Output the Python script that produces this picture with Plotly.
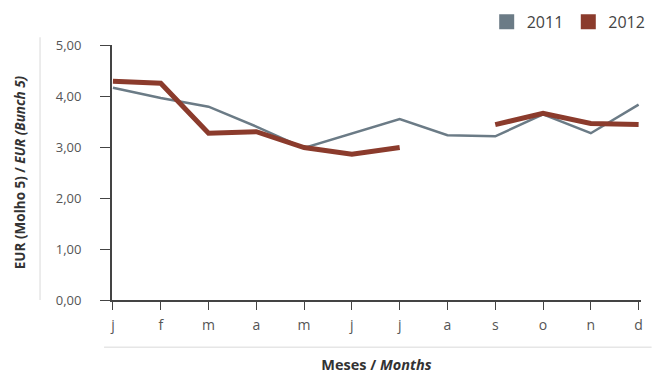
import plotly.graph_objects as go

months = ["j", "f", "m", "a", "m", "j", "j", "a", "s", "o", "n", "d"]
v2011 = [4.16, 3.96, 3.79, 3.40, 2.98, 3.27, 3.55, 3.23, 3.21, 3.64, 3.27, 3.83]
v2012 = [4.29, 4.25, 3.27, 3.30, 2.99, 2.86, 2.99, None, 3.44, 3.66, 3.46, 3.44]
y_ticks = [0, 1, 2, 3, 4, 5]

c2011 = "#6b7b86"
c2012 = "#8b3b2c"
xs = list(range(len(months)))

fig = go.Figure()
fig.add_trace(go.Scatter(x=xs, y=v2011, mode="lines", line=dict(color=c2011, width=2.5),
                         showlegend=False, connectgaps=False))
fig.add_trace(go.Scatter(x=xs, y=v2012, mode="lines", line=dict(color=c2012, width=5),
                         showlegend=False, connectgaps=False))
for name, c in [("2011", c2011), ("2012", c2012)]:
    fig.add_trace(go.Scatter(x=[None], y=[None], mode="markers", name=name,
                             marker=dict(symbol="square", size=15, color=c)))

font = "Open Sans, Lato, sans-serif"
fig.update_layout(
    width=652, height=374,
    margin=dict(l=112, r=11, t=45, b=74, autoexpand=False),
    paper_bgcolor="white", plot_bgcolor="white",
    separators=", ",
    font=dict(family=font, color="#444", size=13),
    legend=dict(orientation="h", x=0.998, xref="container", xanchor="right",
                y=0.987, yanchor="top", yref="container",
                font=dict(size=16, color="#444"),
                itemwidth=30, bgcolor="rgba(0,0,0,0)"),
    xaxis=dict(range=[-0.02, 11.05], tickvals=xs, ticktext=months,
               showgrid=False, zeroline=False, automargin=False,
               showline=True, linecolor="#444", linewidth=2,
               ticks="outside", ticklen=8, tickcolor="#444", tickwidth=1,
               ticklabelstandoff=3,
               tickfont=dict(size=14, color="#555"),
               title=dict(text="<b>Meses / <i>Months</i></b>", font=dict(size=14.5, color="#333"),
                          standoff=28)),
    yaxis=dict(range=[0, 5], tickvals=y_ticks, tickformat=".2f",
               showgrid=False, zeroline=False, automargin=False,
               showline=True, linecolor="#444", linewidth=2,
               ticks="outside", ticklen=10, tickcolor="#444", tickwidth=1,
               ticklabelstandoff=16,
               tickfont=dict(size=13, color="#555"),
               title=dict(text="<b>EUR (Molho 5) / <i>EUR (Bunch 5)</i></b>",
                          font=dict(size=13.5, color="#333"), standoff=27)),
)

fig.add_shape(type="line", xref="paper", yref="paper", x0=-0.136, x1=-0.136, y0=0, y1=1.03,
              line=dict(color="#e6e6e6", width=1.5))
fig.add_shape(type="line", xref="paper", yref="paper", x0=-0.015, x1=1.02, y0=-0.185, y1=-0.185,
              line=dict(color="#e6e6e6", width=1.5))

fig.write_html("out.html", config={"displayModeBar": False},
               post_script="document.body.style.margin='0';")
